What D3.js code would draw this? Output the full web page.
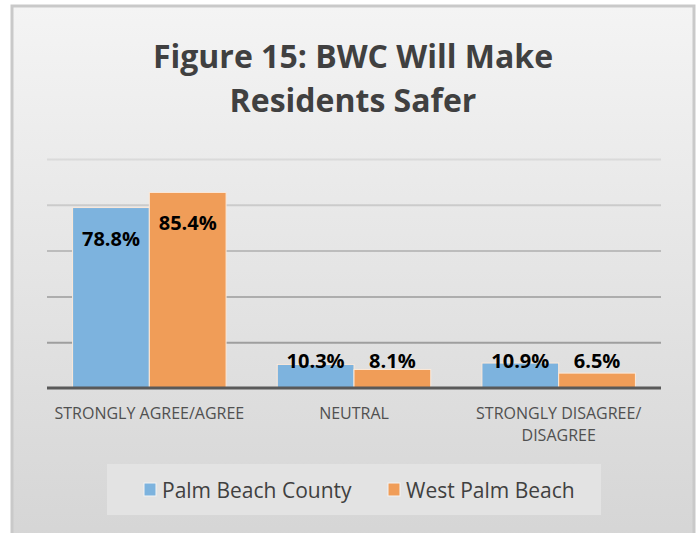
<!DOCTYPE html>
<html>
<head>
<meta charset="utf-8">
<script src="https://cdn.jsdelivr.net/npm/d3@7"></script>
<style>
  body { margin: 0; background: #fff; }
  svg text { font-family: "Open Sans", "Noto Sans", sans-serif; }
</style>
</head>
<body>
<div id="grafica"></div>
<script>
const categorias = [["STRONGLY AGREE/AGREE"], ["NEUTRAL"], ["STRONGLY DISAGREE/", "DISAGREE"]];
const series = ["Palm Beach County", "West Palm Beach"];
const palmBeachCounty = [78.8, 10.3, 10.9];
const westPalmBeach = [85.4, 8.1, 6.5];
const ticksY = [0, 20, 40, 60, 80, 100];
const titulo = ["Figure 15: BWC Will Make", "Residents Safer"];

const w = 697, h = 533;
const colores = ["#7db3de", "#f09d58"];

const svg = d3.select('#grafica').append('svg')
  .attr('width', w)
  .attr('height', h);

// fondo con degradado
const defs = svg.append('defs');
const grad = defs.append('linearGradient')
  .attr('id', 'fondo')
  .attr('x1', 0).attr('y1', 0).attr('x2', 0).attr('y2', 1);
grad.append('stop').attr('offset', '0%').attr('stop-color', '#f4f4f4');
grad.append('stop').attr('offset', '100%').attr('stop-color', '#d5d5d5');

svg.append('rect')
  .attr('x', 12).attr('y', 6)
  .attr('width', 682).attr('height', 540)
  .attr('fill', 'url(#fondo)')
  .attr('stroke', '#c9c9c9')
  .attr('stroke-width', 3);

// titulo
svg.append('text')
  .attr('text-anchor', 'middle')
  .attr('font-weight', 'bold')
  .attr('font-size', 32)
  .attr('fill', '#404040')
  .selectAll('tspan')
  .data(titulo)
  .enter()
  .append('tspan')
  .attr('x', 353)
  .attr('y', (d, i) => 68 + i * 44)
  .text(d => d);

const x0 = d3.scaleBand()
  .domain(d3.range(categorias.length))
  .range([47, 661])
  .paddingInner(0.25)
  .paddingOuter(0.125);

const x1 = d3.scaleBand()
  .domain(d3.range(series.length))
  .range([0, x0.bandwidth()]);

const yScale = d3.scaleLinear()
  .domain([0, 100])
  .range([388, 159]);

const colorGrid = d3.scaleLinear()
  .domain([0, 100])
  .range(['#8f8f8f', '#dadada']);

// lineas de cuadricula
const yAxis = d3.axisLeft(yScale)
  .tickValues(ticksY.slice(1))
  .tickSize(-(661 - 47))
  .tickFormat('');

const ejeY = svg.append('g')
  .attr('transform', 'translate(47,0)')
  .call(yAxis);
ejeY.select('.domain').remove();
ejeY.selectAll('.tick line')
  .attr('stroke', d => colorGrid(d))
  .attr('stroke-width', 2);

const datos = categorias.map((c, i) => [palmBeachCounty[i], westPalmBeach[i]]);

const grupos = svg.selectAll('.grupo')
  .data(datos)
  .enter()
  .append('g')
  .attr('transform', (d, i) => 'translate(' + x0(i) + ',0)');

grupos.selectAll('rect')
  .data(d => d)
  .enter()
  .append('rect')
  .attr('x', (d, j) => x1(j))
  .attr('y', d => yScale(d))
  .attr('width', x1.bandwidth())
  .attr('height', d => yScale(0) - yScale(d))
  .attr('fill', (d, j) => colores[j])
  .attr('stroke', '#fbe9da')
  .attr('stroke-width', 1);

grupos.selectAll('.etiqueta')
  .data(d => d)
  .enter()
  .append('text')
  .attr('x', (d, j) => x1(j) + x1.bandwidth() / 2)
  .attr('y', d => Math.min(yScale(d) + 38, yScale(0) - 20))
  .attr('text-anchor', 'middle')
  .attr('font-weight', 'bold')
  .attr('font-size', 20)
  .attr('fill', '#000')
  .text(d => d.toFixed(1) + '%');

// eje x
const xAxis = d3.axisBottom(x0).tickSize(0).tickFormat('');
const ejeX = svg.append('g')
  .attr('transform', 'translate(0,388)')
  .call(xAxis);
ejeX.select('.domain')
  .attr('stroke', '#595959')
  .attr('stroke-width', 3)
  .attr('d', 'M47,0H661');

ejeX.selectAll('.tick')
  .append('text')
  .attr('fill', '#505050')
  .attr('font-size', 16)
  .attr('text-anchor', 'middle')
  .selectAll('tspan')
  .data(i => categorias[i])
  .enter()
  .append('tspan')
  .attr('x', 0)
  .attr('y', (d, k) => 31 + k * 22)
  .text(d => d);

// leyenda
svg.append('rect')
  .attr('x', 107).attr('y', 464)
  .attr('width', 494).attr('height', 51)
  .attr('fill', '#e3e3e3');

const posLeyenda = [144, 388];
const leyenda = svg.selectAll('.leyenda')
  .data(series)
  .enter()
  .append('g')
  .attr('transform', (d, i) => 'translate(' + posLeyenda[i] + ',0)');

leyenda.append('rect')
  .attr('x', 0).attr('y', 483)
  .attr('width', 12).attr('height', 13)
  .attr('fill', (d, i) => colores[i])
  .attr('stroke', '#f4f4f4')
  .attr('stroke-width', 1);

leyenda.append('text')
  .attr('x', 18).attr('y', 498)
  .attr('font-size', 21)
  .attr('fill', '#404040')
  .text(d => d);
</script>
</body>
</html>
